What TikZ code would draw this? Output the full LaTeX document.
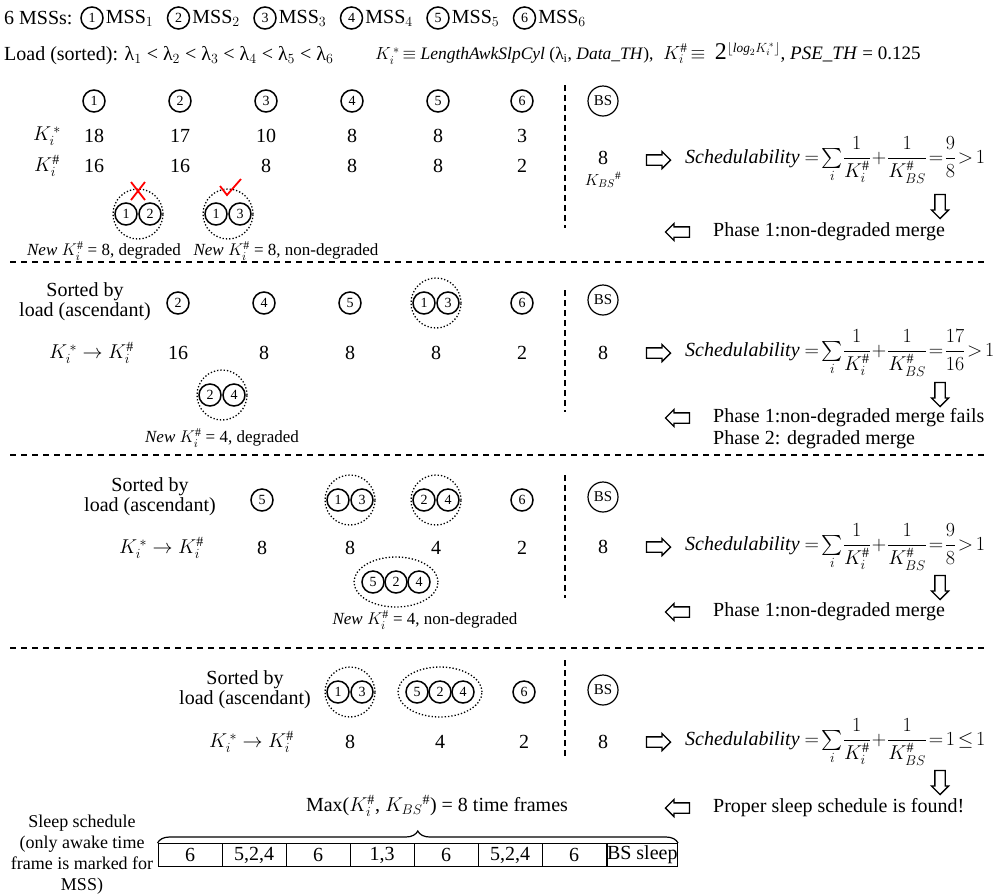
\RequirePackage{fix-cm}
\documentclass[tikz,border=0pt]{standalone}
\usepackage{amsmath}
\usepackage{amssymb}
\usepackage{fontspec}
\setmainfont{Liberation Serif}
\usetikzlibrary{%
   shapes.geometric,%
   shapes.arrows,%
   decorations.pathreplacing,%
   positioning}

\begin{document}
\begin{tikzpicture}
[x=1pt, y=-1pt,
 every node/.style={font=\fontsize{20}{21}\selectfont, inner sep=1pt},
 mss/.style={circle,draw,line width=1.5pt,inner sep=0pt,minimum size=22pt,font=\fontsize{14}{14}\selectfont},
 bs/.style={circle,draw,line width=1.2pt,inner sep=0pt,minimum size=30pt,font=\fontsize{15}{15}\selectfont},
 grp/.style={circle,draw,dotted,line width=1.3pt,inner sep=0pt,minimum size=50pt},
 grp3/.style={ellipse,draw,dotted,line width=1.3pt,inner sep=0pt,minimum width=84pt,minimum height=50pt},
 rarr/.style={single arrow,draw,line width=1.3pt,fill=white,inner sep=4.5pt,minimum height=24pt,single arrow head extend=3.5pt},
 darr/.style={rarr,shape border rotate=270},
 larr/.style={rarr,shape border rotate=180},
 sorted/.style={align=center,font=\fontsize{20}{20}\selectfont},
 newk/.style={font=\fontsize{17}{18}\selectfont},
 formula/.style={anchor=west,font={\fontsize{20}{22}\selectfont\thickmuskip=2.5mu\medmuskip=2mu\thinmuskip=1mu\nulldelimiterspace=0pt}},
 phase/.style={anchor=west,font=\fontsize{20}{21}\selectfont},
 cell/.style={draw,line width=1pt,minimum width=64pt,minimum height=23pt,inner sep=0pt},
 sep/.style={line width=1.3pt,dash pattern=on 6pt off 5pt},
 vsep/.style={line width=1.2pt,dash pattern=on 6pt off 4pt},
 redmark/.style={red,line width=1.8pt}]
\useasboundingbox (0,0) rectangle (995,895);

% header
\node[anchor=west] (title) at (3,18) {6 MSSs:};
\foreach \i in {1,...,6} {
  \node[mss] (h\i) at ({92+86.5*(\i-1)},18) {\i};
  \node[anchor=west,inner sep=0pt] (hl\i) at ([xshift=2pt]h\i.east) {MSS$_\i$};
}
\node[anchor=west] (load) at (3,56) {Load (sorted): λ$_1$ < λ$_2$ < λ$_3$ < λ$_4$ < λ$_5$ < λ$_6$};
\node[anchor=west,font={\fontsize{17.5}{20}\selectfont\thickmuskip=3mu}] (kstar) at (374,56) {$K_i^{\,*}\equiv$ \textit{LengthAwkSlpCyl} (λ$_\mathrm{i}$, \textit{Data\_TH}),};
\node[anchor=west,font={\fontsize{19}{20}\selectfont\thickmuskip=3mu}] (khash) at (662,53) {$K_i^\#\equiv$\ \ {\fontsize{24}{24}\selectfont 2}$^{\left\lfloor \mathit{log}_2 K_i^{\,*} \right\rfloor}$, \textit{PSE\_TH} = 0.125};

% phase 1 : original order
\foreach \i/\x in {1/94,2/180,3/266,4/352,5/438,6/522}
  \node[mss] (a\i) at (\x,101) {\i};
\node (ks1) at (47,136) {$K_i^{\,*}$};
\node (kh1) at (47,166) {$K_i^\#$};
\foreach \v [count=\i] in {18,17,10,8,8,3}
  \node (as\i) at (a\i |- ks1) {\v};
\foreach \v [count=\i] in {16,16,8,8,8,2}
  \node (ah\i) at (a\i |- kh1) {\v};
\node[grp] (g12) at (138,214) {};
\node[mss] (g12a) at (126,214) {1};
\node[mss] (g12b) at (150,214) {2};
\node[grp] (g13) at (228,214) {};
\node[mss] (g13a) at (216,214) {1};
\node[mss] (g13b) at (240,214) {3};
\draw[redmark] (131,182) -- (145,200) (145,182) -- (131,200);
\draw[redmark] (220,186) -- (227,195) -- (241,179);
\node[newk] (new12) at (104,251) {\textit{New} $K_i^\#$ = 8, degraded};
\node[newk] (new13) at (286,251) {\textit{New} $K_i^\#$ = 8, non-degraded};
\draw[vsep] (565,85) -- (565,228);
\node[bs] (bs1) at (603,101) {BS};
\node (kbs1) at (603,158) {8};
\node[font=\fontsize{16}{16}\selectfont] (kbsl) at (603,180) {$K_{BS}{}^{\#}$};
\node[rarr] (r1) at (656,160) {};
\node[formula] (f1) at (684,160) {\textit{Schedulability} $=\sum\limits_i\dfrac{1}{K_i^\#}+\dfrac{1}{K_{BS}^\#}=\dfrac{9}{8}>1$};
\node[darr] (d1) at (940,204) {};
\node[larr] (l1) at (680,232) {};
\node[phase] (p1) at (712,232) {Phase 1:non-degraded merge};
\draw[sep] (10,262) -- (988,262);

% phase 2 : sorted, degraded merge
\node[sorted] (so2) at (85,302) {Sorted by\\load (ascendant)};
\node[mss] (b2) at (178,303) {2};
\node[mss] (b4) at (264,303) {4};
\node[mss] (b5) at (350,303) {5};
\node[grp] (b13) at (436,303) {};
\node[mss] (b13a) at (424,303) {1};
\node[mss] (b13b) at (448,303) {3};
\node[mss] (b6) at (522,303) {6};
\node[anchor=east] (kl2) at (135,353) {$K_i^{\,*}\rightarrow K_i^\#$};
\foreach \n/\v in {b2/16,b4/8,b5/8,b13/8,b6/2}
  \node (v\n) at (\n |- kl2) {\v};
\node[grp] (g24) at (222,395) {};
\node[mss] (g24a) at (210,395) {2};
\node[mss] (g24b) at (234,395) {4};
\node[newk] (new24) at (222,438) {\textit{New} $K_i^\#$ = 4, degraded};
\draw[vsep] (565,290) -- (565,412);
\node[bs] (bs2) at (603,300) {BS};
\node (kbs2) at (603,353) {8};
\node[rarr] (r2) at (656,353) {};
\node[formula] (f2) at (684,353) {\textit{Schedulability} $=\sum\limits_i\dfrac{1}{K_i^\#}+\dfrac{1}{K_{BS}^\#}=\dfrac{17}{16}>1$};
\node[darr] (d2) at (940,392) {};
\node[larr] (l2) at (680,418) {};
\node[phase] (p2) at (712,418) {Phase 1:non-degraded merge fails};
\node[phase] (p2b) at (712,440) {Phase 2: degraded merge};
\draw[sep] (10,455) -- (988,455);

% phase 1 again
\node[sorted] (so3) at (150,497) {Sorted by\\load (ascendant)};
\node[mss] (c5) at (262,500) {5};
\node[grp] (c13) at (350,500) {};
\node[mss] (c13a) at (338,500) {1};
\node[mss] (c13b) at (362,500) {3};
\node[grp] (c24) at (436,500) {};
\node[mss] (c24a) at (424,500) {2};
\node[mss] (c24b) at (448,500) {4};
\node[mss] (c6) at (522,500) {6};
\node[anchor=east] (kl3) at (205,548) {$K_i^{\,*}\rightarrow K_i^\#$};
\foreach \n/\v in {c5/8,c13/8,c24/4,c6/2}
  \node (v\n) at (\n |- kl3) {\v};
\node[grp3] (g524) at (396,582) {};
\node[mss] (g524a) at (373,582) {5};
\node[mss] (g524b) at (396,582) {2};
\node[mss] (g524c) at (419,582) {4};
\node[newk] (new524) at (425,620) {\textit{New} $K_i^\#$ = 4, non-degraded};
\draw[vsep] (565,475) -- (565,598);
\node[bs] (bs3) at (603,497) {BS};
\node (kbs3) at (603,547) {8};
\node[rarr] (r3) at (656,547) {};
\node[formula] (f3) at (684,547) {\textit{Schedulability} $=\sum\limits_i\dfrac{1}{K_i^\#}+\dfrac{1}{K_{BS}^\#}=\dfrac{9}{8}>1$};
\node[darr] (d3) at (940,585) {};
\node[larr] (l3) at (680,612) {};
\node[phase] (p3) at (712,612) {Phase 1:non-degraded merge};
\draw[sep] (10,648) -- (988,648);

% final check
\node[sorted] (so4) at (245,690) {Sorted by\\load (ascendant)};
\node[grp] (e13) at (350,692) {};
\node[mss] (e13a) at (338,692) {1};
\node[mss] (e13b) at (362,692) {3};
\node[grp3] (e524) at (440,692) {};
\node[mss] (e524a) at (417,692) {5};
\node[mss] (e524b) at (440,692) {2};
\node[mss] (e524c) at (463,692) {4};
\node[mss] (e6) at (524,692) {6};
\node[anchor=east] (kl4) at (295,742) {$K_i^{\,*}\rightarrow K_i^\#$};
\foreach \n/\v in {e13/8,e524/4,e6/2}
  \node (v\n) at (\n |- kl4) {\v};
\draw[vsep] (565,660) -- (565,758);
\node[bs] (bs4) at (603,690) {BS};
\node (kbs4) at (603,742) {8};
\node[rarr] (r4) at (656,742) {};
\node[formula] (f4) at (684,742) {\textit{Schedulability} $=\sum\limits_i\dfrac{1}{K_i^\#}+\dfrac{1}{K_{BS}^\#}=1\leq 1$};
\node[darr] (d4) at (940,780) {};
\node[larr] (l4) at (680,808) {};
\node[phase] (p4) at (712,808) {Proper sleep schedule is found!};

% sleep schedule
\node[align=center,font=\fontsize{18}{21}\selectfont] (sleep) at (82,855) {Sleep schedule\\(only awake time\\frame is marked for\\MSS)};
\foreach \t [count=\k] in {6,{5,2,4},6,{1,3},6,{5,2,4},6}
  \node[cell] (cell\k) at ({158+64*(\k-0.5)},855) {\t};
\node[cell,minimum width=66pt,right=0pt of cell7] (cell8) {BS sleep};
\draw[decorate,decoration={brace,amplitude=12pt},line width=1.2pt] (cell1.north west) -- (cell8.north east);
\node (maxk) at (437,806) {Max($K_i^\#$, $K_{BS}{}^\#$) = 8 time frames};
\end{tikzpicture}
\end{document}
